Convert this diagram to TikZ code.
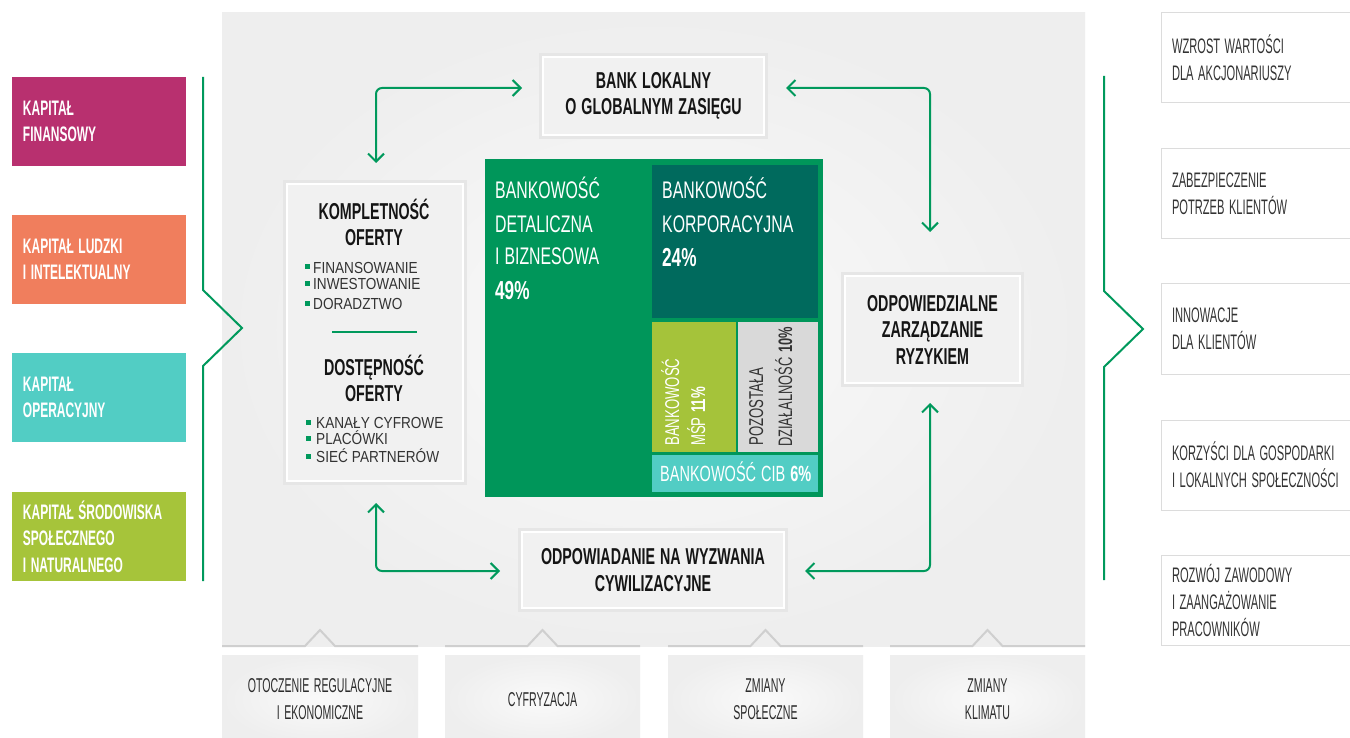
\documentclass[tikz,border=0pt]{standalone}
\usepackage{fontspec}
\setmainfont{Liberation Sans}
\newfontfamily\fcap[FakeStretch=0.57]{Liberation Sans}
\newfontfamily\ftit[FakeStretch=0.62]{Liberation Sans}
\newfontfamily\fcnd[FakeStretch=0.53]{Liberation Sans}
\newfontfamily\ftm[FakeStretch=0.66]{Liberation Sans}
\newfontfamily\fitm[FakeStretch=0.85]{Liberation Sans}
\newcommand\nsp{\spaceskip=4.5pt\relax}
\usetikzlibrary{arrows.meta,calc}
\definecolor{cmag}{HTML}{B8306F}
\definecolor{corg}{HTML}{F07E5D}
\definecolor{ctea}{HTML}{52CDC4}
\definecolor{clim}{HTML}{A6C43A}
\definecolor{grn}{HTML}{00995C}
\definecolor{tmg}{HTML}{00965A}
\definecolor{tmd}{HTML}{006A5D}
\definecolor{tmy}{HTML}{A5C33A}
\definecolor{tmgr}{HTML}{D9D9D9}
\definecolor{bgout}{HTML}{EEEEEE}
\definecolor{bgin}{HTML}{FAFAFA}
\definecolor{tout}{HTML}{E6E6E6}
\definecolor{tin}{HTML}{F1F1F1}
\definecolor{rbd}{HTML}{DCDCDC}
\definecolor{ink}{HTML}{151515}
\definecolor{gtx}{HTML}{333333}
\definecolor{notchc}{HTML}{CFCFCF}
\begin{document}
\begin{tikzpicture}[x=1pt,y=-1pt,
  capbox/.style={minimum width=174, minimum height=89, inner xsep=11, inner ysep=0,
    text width=152, align=left, text=white,
    font={\fontsize{21}{26.5}\selectfont\fcap\bfseries}},
  rbox/.style={draw=rbd, line width=1, fill=white, minimum width=200, minimum height=90,
    inner xsep=11, inner ysep=0, text width=178, align=left, text=gtx,
    font={\fontsize{21}{27}\selectfont\fcnd}},
  bbox/.style={shade, inner color=bgin, outer color=bgout, minimum width=196, minimum height=89,
    inner sep=0, align=center, text=ink!90,
    font={\fontsize{20}{27}\selectfont\fcnd\spaceskip=4.5pt\relax}},
  tbox/.style={fill=tin, draw=white, line width=1.2, preaction={draw=tout, line width=8},
    inner sep=0, align=center, text=ink,
    font={\fontsize{23}{26.5}\selectfont\ftit\bfseries\spaceskip=5pt\relax}},
  ttl/.style={anchor=base, inner sep=0, text=ink, font={\fontsize{23}{23}\selectfont\ftit\bfseries}},
  itm/.style={anchor=base west, inner sep=0, text=gtx, font={\fontsize{16}{16}\selectfont\fitm\spaceskip=4pt\relax}},
  bul/.style={fill=grn},
  tmbox/.style={inner sep=0, outer sep=0, draw=none},
  tmw/.style={anchor=base west, inner sep=0, text=white, font={\fontsize{24}{24}\selectfont\ftm\spaceskip=5pt\relax}},
  tmp/.style={anchor=base west, inner sep=0, text=white, font={\fontsize{26}{26}\selectfont\ftm\bfseries}},
  tmr/.style={anchor=base west, rotate=90, inner sep=0, font={\fontsize{20}{20}\selectfont\ftm\spaceskip=4.5pt\relax}},
  gline/.style={draw=grn, line width=2, line join=miter},
  arr/.style={draw=grn, line width=2, rounded corners=6,
    {Straight Barb[length=8pt,width=16pt]}-{Straight Barb[length=8pt,width=16pt]}},
  notch/.style={draw=notchc, line width=2}
]
\useasboundingbox (0,0) rectangle (1350,738);
\fill[white] (0,0) rectangle (1350,738);

% main background
\shade[inner color=bgin, outer color=bgout] (222,13) rectangle (1085,646);

% bottom notched lines
\foreach \a/\b in {222/418,445/640,668/863,890/1085}{
  \pgfmathsetmacro\c{(\a+\b)/2}
  \draw[notch] (\a,646) -- (\c-15,646) -- (\c,630) -- (\c+15,646) -- (\b,646);
}

% left capitals
\node[capbox, fill=cmag] (k1) at (99,121.5) {\nsp KAPITAŁ\\FINANSOWY};
\node[capbox, fill=corg] (k2) at (99,259.5) {\nsp KAPITAŁ LUDZKI\\I INTELEKTUALNY};
\node[capbox, fill=ctea] (k3) at (99,397.5) {\nsp KAPITAŁ\\OPERACYJNY};
\node[capbox, fill=clim] (k4) at (99,536.5) {\nsp KAPITAŁ ŚRODOWISKA\\SPOŁECZNEGO\\I NATURALNEGO};

% brackets
\draw[gline] (203,77) -- (203,290) -- (242,328) -- (203,366) -- (203,581);
\draw[gline] (1104,76) -- (1104,291) -- (1143,329) -- (1104,367) -- (1104,580);

% right outcomes
\node[rbox] (r1) at (1261,58) {\nsp WZROST WARTOŚCI\\DLA AKCJONARIUSZY};
\node[rbox] (r2) at (1261,194) {\nsp ZABEZPIECZENIE\\POTRZEB KLIENTÓW};
\node[rbox] (r3) at (1261,329) {\nsp INNOWACJE\\DLA KLIENTÓW};
\node[rbox] (r4) at (1261,465) {\nsp KORZYŚCI DLA GOSPODARKI\\I LOKALNYCH SPOŁECZNOŚCI};
\node[rbox] (r5) at (1261,600) {\nsp ROZWÓJ ZAWODOWY\\I ZAANGAŻOWANIE\\PRACOWNIKÓW};

% title boxes
\node[tbox, minimum width=221, minimum height=78] (bank) at (653.5,96) {BANK LOKALNY\\O GLOBALNYM ZASIĘGU};
\node[tbox, minimum width=175, minimum height=107] (risk) at (932.5,329.5) {ODPOWIEDZIALNE\\ZARZĄDZANIE\\RYZYKIEM};
\node[tbox, minimum width=262, minimum height=76] (civ) at (653,570) {ODPOWIADANIE NA WYZWANIA\\CYWILIZACYJNE};
\node[tbox, minimum width=176, minimum height=297] (offer) at (375,332.5) {};

% offer contents
\node[ttl] (o1) at (374,220) {KOMPLETNOŚĆ};
\node[ttl] (o2) at (374,246) {OFERTY};
\fill[bul] (305,264.5) rectangle (310,269.5);
\node[itm] (i1) at (313,273) {FINANSOWANIE};
\fill[bul] (305,281.5) rectangle (310,286.5);
\node[itm] (i2) at (313,290) {INWESTOWANIE};
\fill[bul] (305,300.5) rectangle (310,305.5);
\node[itm] (i3) at (313,309) {DORADZTWO};
\draw[draw=grn, line width=1.5] (332,332) -- (417,332);
\node[ttl] (o3) at (374,375) {DOSTĘPNOŚĆ};
\node[ttl] (o4) at (374,401) {OFERTY};
\fill[bul] (306,419.5) rectangle (311,424.5);
\node[itm] (i4) at (316,428) {KANAŁY CYFROWE};
\fill[bul] (306,435.5) rectangle (311,440.5);
\node[itm] (i5) at (316,444) {PLACÓWKI};
\fill[bul] (306,453.5) rectangle (311,458.5);
\node[itm] (i6) at (316,462) {SIEĆ PARTNERÓW};

% treemap
\node[tmbox, fill=tmg, minimum width=338, minimum height=338] (tm) at (654,328) {};
\node[tmbox, fill=tmd, minimum width=166, minimum height=153] (corp) at (735,241.5) {};
\node[tmbox, fill=tmy, minimum width=84, minimum height=130] (msp) at (694,387) {};
\node[tmbox, fill=tmgr, minimum width=80, minimum height=130] (oth) at (778,387) {};
\node[tmbox, fill=ctea, minimum width=166, minimum height=37] (cib) at (735,473.5) {};

\node[tmw] (d1) at (495,198.6) {BANKOWOŚĆ};
\node[tmw] (d2) at (495,232.6) {DETALICZNA};
\node[tmw] (d3) at (495,264.6) {I BIZNESOWA};
\node[tmp] (d4) at (495,299) {49\%};
\node[tmw] (c1) at (662,198.6) {BANKOWOŚĆ};
\node[tmw] (c2) at (662,232.6) {KORPORACYJNA};
\node[tmp] (c3) at (662,266) {24\%};
\node[tmr, text=white] (m1) at (679,446) {BANKOWOŚĆ};
\node[tmr, text=white] (m2) at (705,446) {MŚP \textbf{11\%}};
\node[tmr, text=gtx] (p1) at (763,446) {POZOSTAŁA};
\node[tmr, text=gtx, font={\fontsize{19.5}{19.5}\selectfont\ftm\spaceskip=4.5pt\relax}] (p2) at (792,447) {DZIAŁALNOŚĆ \textbf{10\%}};
\node[tmw, font={\fontsize{22}{22}\selectfont\ftm\spaceskip=5pt\relax}] (cb) at (660,481) {BANKOWOŚĆ CIB \textbf{6\%}};

% arrows
\coordinate (a1a) at (376,163); \coordinate (a1b) at (522,88);
\draw[arr] (a1a) |- (a1b);
\coordinate (a2a) at (786,88); \coordinate (a2b) at (930,232);
\draw[arr] (a2a) -| (a2b);
\coordinate (a3a) at (376,503); \coordinate (a3b) at (500,571);
\draw[arr] (a3a) |- (a3b);
\coordinate (a4a) at (805,571); \coordinate (a4b) at (930,403);
\draw[arr] (a4a) -| (a4b);

% bottom boxes
\node[bbox] (b1) at (320,699.5) {OTOCZENIE REGULACYJNE\\I EKONOMICZNE};
\node[bbox, minimum width=195] (b2) at (542.5,699.5) {CYFRYZACJA};
\node[bbox, minimum width=195] (b3) at (765.5,699.5) {ZMIANY\\SPOŁECZNE};
\node[bbox, minimum width=195] (b4) at (987.5,699.5) {ZMIANY\\KLIMATU};
\end{tikzpicture}
\end{document}
